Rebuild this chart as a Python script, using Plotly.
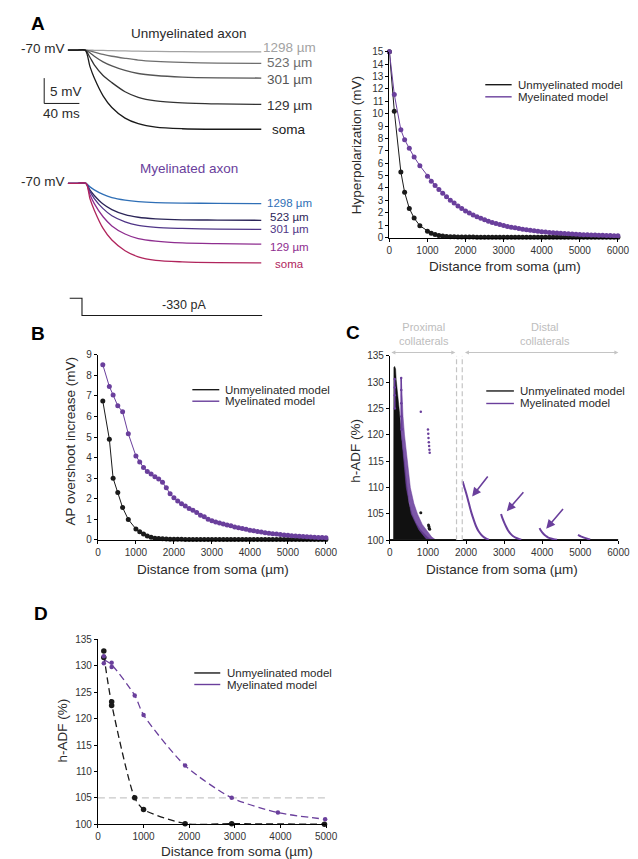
import plotly.graph_objects as go

W, H = 638, 859
def px(x): return x / W
def py(y): return 1 - y / H

FONT = "Liberation Sans, Arial, Helvetica, sans-serif"
INK = "#1a1a1a"
PURPLE = "#6a3f9c"
LIGHT = "#c4c4c4"
TXT = "#2a2a2a"

# ---------------- Panel A (voltage traces, hyperpolarization in mV) ----------------
unmyel_t = [0, 10, 19.7, 25, 30, 40, 50, 65, 80, 100, 130, 170, 220]
unmyel_soma = [0, 0, 0, 3.2, 5.5, 9.0, 11.3, 13.4, 14.5, 15.2, 15.5, 15.6, 15.6]
unmyel_129 = [0, 0, 0, 1.4, 2.9, 5.0, 6.4, 8.2, 9.3, 10.0, 10.4, 10.6, 10.7]
unmyel_301 = [0, 0, 0, 0.5, 1.2, 2.3, 3.1, 4.0, 4.6, 5.0, 5.3, 5.45, 5.5]
unmyel_523 = [0, 0, 0, 0.15, 0.4, 0.85, 1.2, 1.6, 1.95, 2.2, 2.4, 2.55, 2.6]
unmyel_1298 = [0, 0, 0, 0, 0.02, 0.05, 0.1, 0.15, 0.2, 0.25, 0.3, 0.33, 0.35]

myel_t = [0, 10, 20.4, 25, 30, 40, 50, 65, 80, 100, 130, 170, 220]
myel_soma = [0, 0, 0, 3.0, 5.3, 8.9, 11.2, 13.3, 14.5, 15.2, 15.5, 15.65, 15.7]
myel_129 = [0, 0, 0, 2.2, 4.0, 6.6, 8.4, 10.0, 10.9, 11.4, 11.75, 11.9, 12.0]
myel_301 = [0, 0, 0, 1.6, 3.0, 5.0, 6.4, 7.6, 8.3, 8.7, 8.9, 9.05, 9.1]
myel_523 = [0, 0, 0, 1.3, 2.4, 4.1, 5.2, 6.2, 6.7, 7.0, 7.2, 7.25, 7.3]
myel_1298 = [0, 0, 0, 0.7, 1.3, 2.2, 2.8, 3.3, 3.6, 3.8, 3.9, 3.95, 4.0]

trace_labels = ["1298 µm", "523 µm", "301 µm", "129 µm", "soma"]
unmyel_colors = ["#a3a3a3", "#6e6e6e", "#555555", "#333333", "#1a1a1a"]
myel_colors = ["#2f6fb6", "#2b2558", "#4f3587", "#8e2d8f", "#b0245c"]
unmyel_label_y = [0.47, -2.45, -5.7, -10.9, -15.7]
myel_label_y = [-3.9, -6.55, -9.0, -12.6, -16.0]

stim_t = [2, 16, 16, 221]
stim_pA = [0, 0, -330, -330]

# ---------------- Panel A right: hyperpolarization vs distance ----------------
dist_A = [0, 129, 301, 400, 523, 650, 800, 1000] + list(range(1100, 6001, 100))
hyp_unmyel = [15, 10.2, 5.3, 3.65, 2.35, 1.57, 0.95, 0.5,
              0.34, 0.24, 0.17, 0.12, 0.09, 0.07, 0.06, 0.05, 0.04, 0.04,
              0.035, 0.035, 0.03, 0.03, 0.03, 0.03, 0.03, 0.03, 0.03, 0.03,
              0.03, 0.03, 0.03, 0.025, 0.025, 0.025, 0.025, 0.025, 0.025, 0.025,
              0.02, 0.02, 0.02, 0.02, 0.02, 0.02, 0.02, 0.02, 0.02, 0.02,
              0.02, 0.02, 0.02, 0.02, 0.02, 0.02, 0.02, 0.02, 0.02, 0.02]
hyp_myel = [15, 11.55, 8.7, 7.9, 7.2, 6.5, 5.8, 4.95,
            4.55, 4.2, 3.87, 3.58, 3.3, 3.02, 2.78, 2.55, 2.34, 2.15,
            1.98, 1.82, 1.68, 1.55, 1.43, 1.32, 1.22, 1.13, 1.05, 0.97,
            0.9, 0.84, 0.78, 0.72, 0.67, 0.62, 0.58, 0.54, 0.5, 0.47,
            0.44, 0.41, 0.38, 0.36, 0.34, 0.32, 0.3, 0.28, 0.26, 0.25,
            0.23, 0.22, 0.21, 0.2, 0.19, 0.18, 0.17, 0.16, 0.15, 0.14]

# ---------------- Panel B: AP overshoot increase ----------------
dist_B = [129, 301, 400, 523, 650, 800, 1000] + list(range(1100, 6001, 100))
ap_unmyel = [6.75, 4.9, 3.0, 2.3, 1.57, 0.99, 0.53,
             0.40, 0.29, 0.19, 0.13, 0.08, 0.06, 0.05, 0.04, 0.03, 0.03,
             0.025, 0.025, 0.02, 0.02, 0.02, 0.02, 0.02, 0.02, 0.02, 0.02,
             0.02, 0.02, 0.02, 0.02, 0.02, 0.02, 0.02, 0.02, 0.02, 0.02,
             0.02, 0.02, 0.02, 0.02, 0.02, 0.02, 0.02, 0.02, 0.02, 0.02,
             0.02, 0.02, 0.02, 0.02, 0.02, 0.02, 0.02, 0.02, 0.02, 0.02]
ap_myel = [8.52, 7.46, 7.05, 6.52, 6.23, 5.16, 4.08,
           3.79, 3.52, 3.32, 3.2, 3.07, 2.96, 2.8, 2.53, 2.24, 2.05,
           1.89, 1.76, 1.65, 1.52, 1.44, 1.33, 1.2, 1.12, 1.0, 0.93,
           0.87, 0.82, 0.77, 0.72, 0.68, 0.63, 0.59, 0.55, 0.51, 0.47,
           0.44, 0.41, 0.38, 0.35, 0.32, 0.3, 0.28, 0.26, 0.24, 0.22,
           0.2, 0.19, 0.18, 0.16, 0.15, 0.14, 0.13, 0.12, 0.11, 0.1]

# ---------------- Panel C: h-ADF along collaterals ----------------
c_black_region_x = [95, 95, 105, 125, 150, 165, 190, 222, 256, 300, 335, 370, 405, 440, 500, 580, 680, 800, 900, 1000, 1100, 95]
c_black_region_y = [100, 131, 132.8, 133, 132.5, 130.5, 129, 127, 124, 120, 117.5, 115, 112.5, 110, 107, 105, 103.3, 102, 101.2, 100.5, 100, 100]
c_purple_band_x = [300, 320, 345, 384, 452, 537, 630, 725, 850, 1000, 1100, 1200,
                   950, 760, 560, 430, 360, 320, 290, 290, 294]
c_purple_band_y = [130.8, 127, 123.5, 120, 115, 110, 107, 105, 103, 101.5, 100.6, 100.1,
                   100.3, 102, 105, 110, 115, 118, 121, 126, 130.8]
c_purple_streak1_x = [126, 127, 128, 130]
c_purple_streak1_y = [130.6, 129, 127.5, 125]
c_purple_streak2_x = [297, 298, 300, 303, 308]
c_purple_streak2_y = [130.8, 128.5, 126, 123.5, 121]
c_purple_iso_x = [812, 1000, 1008, 1015, 1022, 1030, 1038, 1045]
c_purple_iso_y = [124.4, 121, 120.2, 119.4, 118.6, 117.9, 117.2, 116.6]
c_black_iso_x = [812, 1015, 1025, 1035, 1045]
c_black_iso_y = [105.2, 102.9, 102.6, 102.3, 102.1]
c_base_prox_x = [0, 1740]
c_base_dist_x = [1910, 6000]
c_distal1_x = [1910, 1950, 2000, 2050, 2100, 2150, 2200, 2260, 2330, 2430, 2530, 2600]
c_distal1_y = [111.2, 110.2, 109.0, 107.7, 106.3, 105.0, 103.9, 102.7, 101.7, 100.8, 100.3, 100.1]
c_distal2_x = [2920, 2950, 3000, 3050, 3100, 3160, 3230, 3300, 3370, 3450]
c_distal2_y = [105.0, 104.3, 103.4, 102.6, 101.9, 101.3, 100.8, 100.5, 100.3, 100.1]
c_distal3_x = [3930, 3960, 4000, 4050, 4100, 4160, 4230, 4300, 4390]
c_distal3_y = [102.3, 101.9, 101.5, 101.1, 100.8, 100.5, 100.35, 100.2, 100.1]
c_distal4_x = [4940, 4980, 5030, 5080, 5140, 5200, 5260]
c_distal4_y = [101.0, 100.85, 100.7, 100.55, 100.4, 100.25, 100.15]
c_arrow_tail = [(2600, 112.4), (3540, 109.4), (4580, 106.2)]
c_arrow_head = [(2160, 108.3), (3070, 105.5), (4105, 102.2)]
c_divider_x = [1750, 1900]
c_region_spans = [(0, 1718), (1931, 6000)]
c_region_names = ["Proximal<br>collaterals", "Distal<br>collaterals"]
c_region_label_x = [885, 4077]

# ---------------- Panel D: h-ADF at branch points ----------------
d_unmyel_x = [129, 129, 301, 301, 806, 1000, 1911, 2931, 4964]
d_unmyel_y = [132.8, 131.6, 123.2, 122.5, 105.0, 102.8, 100.1, 100.1, 100.0]
d_unmyel_fit_x = [129, 301, 806, 1000, 1911, 2931, 4964]
d_unmyel_fit_y = [132.0, 122.8, 105.0, 102.8, 100.1, 100.1, 100.0]
d_myel_x = [129, 129, 301, 301, 806, 1000, 1911, 2931, 3944, 4979]
d_myel_y = [131.8, 130.5, 130.6, 129.8, 124.4, 120.7, 111.1, 105.0, 102.2, 100.95]
d_myel_fit_x = [129, 301, 806, 1000, 1911, 2931, 3944, 4979]
d_myel_fit_y = [131.2, 130.2, 124.4, 120.7, 111.1, 105.0, 102.2, 100.95]
d_threshold = 105

fig = go.Figure()

# ---- Panel A traces ----
unmyel_series = [unmyel_1298, unmyel_523, unmyel_301, unmyel_129, unmyel_soma]
myel_series = [myel_1298, myel_523, myel_301, myel_129, myel_soma]
for vals, col in zip(unmyel_series, unmyel_colors):
    fig.add_trace(go.Scatter(x=unmyel_t, y=[-v for v in vals], mode="lines",
                             line=dict(color=col, width=1.3, shape="spline", smoothing=0.8),
                             xaxis="x", yaxis="y", showlegend=False, hoverinfo="skip"))
for vals, col in zip(myel_series, myel_colors):
    fig.add_trace(go.Scatter(x=myel_t, y=[-v for v in vals], mode="lines",
                             line=dict(color=col, width=1.3, shape="spline", smoothing=0.8),
                             xaxis="x2", yaxis="y2", showlegend=False, hoverinfo="skip"))
fig.add_trace(go.Scatter(x=stim_t, y=stim_pA, mode="lines", line=dict(color=INK, width=1.1),
                         xaxis="x3", yaxis="y3", showlegend=False, hoverinfo="skip"))

# ---- Panel A right ----
fig.add_trace(go.Scatter(x=dist_A, y=hyp_unmyel, mode="lines+markers",
                         line=dict(color=INK, width=1), marker=dict(color=INK, size=5),
                         xaxis="x4", yaxis="y4", showlegend=False, cliponaxis=False))
fig.add_trace(go.Scatter(x=dist_A, y=hyp_myel, mode="lines+markers",
                         line=dict(color=PURPLE, width=1), marker=dict(color=PURPLE, size=5),
                         xaxis="x4", yaxis="y4", showlegend=False, cliponaxis=False))

# ---- Panel B ----
fig.add_trace(go.Scatter(x=dist_B, y=ap_unmyel, mode="lines+markers",
                         line=dict(color=INK, width=1), marker=dict(color=INK, size=5),
                         xaxis="x5", yaxis="y5", showlegend=False, cliponaxis=False))
fig.add_trace(go.Scatter(x=dist_B, y=ap_myel, mode="lines+markers",
                         line=dict(color=PURPLE, width=1), marker=dict(color=PURPLE, size=5),
                         xaxis="x5", yaxis="y5", showlegend=False, cliponaxis=False))

# ---- Panel C ----
fig.add_trace(go.Scatter(x=c_black_region_x, y=c_black_region_y, mode="lines", fill="toself",
                         fillcolor="#111111", line=dict(width=0.5, color="#111111"),
                         xaxis="x6", yaxis="y6", showlegend=False, hoverinfo="skip"))
fig.add_trace(go.Scatter(x=c_purple_band_x, y=c_purple_band_y, mode="lines", fill="toself",
                         fillcolor="rgba(106,63,156,0.88)", line=dict(width=0.5, color=PURPLE),
                         xaxis="x6", yaxis="y6", showlegend=False, hoverinfo="skip"))
for sx, sy in [(c_purple_streak1_x, c_purple_streak1_y), (c_purple_streak2_x, c_purple_streak2_y)]:
    fig.add_trace(go.Scatter(x=sx, y=sy, mode="lines+markers", line=dict(color=PURPLE, width=1.5),
                             marker=dict(color=PURPLE, size=2.5),
                             xaxis="x6", yaxis="y6", showlegend=False, hoverinfo="skip"))
fig.add_trace(go.Scatter(x=c_purple_iso_x, y=c_purple_iso_y, mode="markers",
                         marker=dict(color=PURPLE, size=2.5),
                         xaxis="x6", yaxis="y6", showlegend=False, hoverinfo="skip"))
fig.add_trace(go.Scatter(x=c_black_iso_x, y=c_black_iso_y, mode="markers",
                         marker=dict(color=INK, size=3),
                         xaxis="x6", yaxis="y6", showlegend=False, hoverinfo="skip"))
for bx in [c_base_prox_x, c_base_dist_x]:
    fig.add_trace(go.Scatter(x=bx, y=[100] * len(bx), mode="lines", line=dict(color=INK, width=2.5),
                             xaxis="x6", yaxis="y6", showlegend=False, hoverinfo="skip", cliponaxis=False))
for dx, dy in [(c_distal1_x, c_distal1_y), (c_distal2_x, c_distal2_y),
               (c_distal3_x, c_distal3_y), (c_distal4_x, c_distal4_y)]:
    fig.add_trace(go.Scatter(x=dx, y=dy, mode="lines", line=dict(color=PURPLE, width=2, shape="spline"),
                             xaxis="x6", yaxis="y6", showlegend=False, hoverinfo="skip", cliponaxis=False))

# ---- Panel D ----
fig.add_trace(go.Scatter(x=d_unmyel_fit_x, y=d_unmyel_fit_y, mode="lines",
                         line=dict(color=INK, width=1.3, dash="7px,4px", shape="spline", smoothing=0.7),
                         xaxis="x7", yaxis="y7", showlegend=False, hoverinfo="skip"))
fig.add_trace(go.Scatter(x=d_myel_fit_x, y=d_myel_fit_y, mode="lines",
                         line=dict(color=PURPLE, width=1.3, dash="7px,4px", shape="spline", smoothing=0.7),
                         xaxis="x7", yaxis="y7", showlegend=False, hoverinfo="skip"))
fig.add_trace(go.Scatter(x=d_unmyel_x, y=d_unmyel_y, mode="markers", marker=dict(color=INK, size=5.5),
                         xaxis="x7", yaxis="y7", showlegend=False, cliponaxis=False))
fig.add_trace(go.Scatter(x=d_myel_x, y=d_myel_y, mode="markers", marker=dict(color=PURPLE, size=4.5),
                         xaxis="x7", yaxis="y7", showlegend=False, cliponaxis=False))

# ---------------- Layout ----------------
def hidden(domain, rng):
    return dict(domain=domain, range=rng, visible=False, fixedrange=True)

def vis(domain, rng, dtick, anchor, tick0=0):
    return dict(domain=domain, range=rng, anchor=anchor, showline=True, linecolor="black", linewidth=1,
                ticks="outside", ticklen=3, tickwidth=1, tickcolor="black", showgrid=False,
                zeroline=False, dtick=dtick, tick0=tick0, fixedrange=True,
                tickfont=dict(size=10, color="#333333", family=FONT))

layout = dict(
    width=W, height=H, margin=dict(l=0, r=0, t=0, b=0),
    paper_bgcolor="white", plot_bgcolor="white",
    font=dict(family=FONT, color=TXT),
    showlegend=False,
    xaxis=hidden([0, 0.5], [-64.78, 289.67]),
    yaxis=hidden([py(140), 1.0], [-20.10, 7.14]),
    xaxis2=hidden([0, 0.5], [-64.78, 289.67]),
    yaxis2=hidden([py(280), py(140)], [-21.07, 6.17]),
    xaxis3=hidden([0, 0.5], [-64.78, 289.67]),
    yaxis3=hidden([py(320), py(280)], [-601.2, 157.4]),
    xaxis4=vis([px(387.5), px(621.5)], [0, 6000], 1000, "y4"),
    yaxis4=vis([py(226.7), py(38.3)], [0, 15], 1, "x4"),
    xaxis5=vis([px(89), px(322.5)], [0, 6000], 1000, "y5"),
    yaxis5=vis([py(533.3), py(345.7)], [0, 9], 1, "x5"),
    xaxis6=vis([px(388), px(622)], [0, 6000], 1000, "y6"),
    yaxis6=vis([py(533.7), py(346.7)], [100, 135], 5, "x6", tick0=100),
    xaxis7=vis([px(89), px(322.7)], [0, 5000], 1000, "y7"),
    yaxis7=vis([py(821.7), py(634.3)], [100, 135], 5, "x7", tick0=100),
)

shapes = []
annotations = []

def ann(text, x, y, xref="paper", yref="paper", size=13.5, color=TXT, xanchor="center",
        yanchor="middle", textangle=0, bold=False):
    annotations.append(dict(text=f"<b>{text}</b>" if bold else text, x=x, y=y, xref=xref, yref=yref,
                            showarrow=False, xanchor=xanchor, yanchor=yanchor, textangle=textangle,
                            font=dict(size=size, color=color, family=FONT)))

# Panel letters
ann("A", px(28), py(10), size=19, color="black", bold=True)
ann("B", px(28), py(323.7), size=19, color="black", bold=True)
ann("C", px(350), py(323.5), size=19, color="black", bold=True)
ann("D", px(30.5), py(608.5), size=19, color="black", bold=True)

# Panel A left texts
ann("Unmyelinated axon", 138.2, 3.25, "x", "y", size=13.5)
ann("Myelinated axon", 138.2, 2.92, "x2", "y2", size=13.5, color=PURPLE)
ann("-70 mV", -1.5, 0.35, "x", "y", size=13.5, xanchor="right")
ann("-70 mV", -1.5, 0.35, "x2", "y2", size=13.5, xanchor="right")
for lab, ly, col in zip(trace_labels, unmyel_label_y, unmyel_colors):
    ann(lab, 251.9, ly, "x", "y", size=13.5, color=col)
for lab, ly, col in zip(trace_labels, myel_label_y, myel_colors):
    ann(lab, 251.9, ly, "x2", "y2", size=11.5, color=col)
ann("5 mV", -22.9, -8.23, "x", "y", size=13.5, xanchor="left")
ann("40 ms", -7, -12.4, "x", "y", size=13.5)
ann("-330 pA", 131.6, -127, "x3", "y3", size=12.5)
# scale bar: 5 mV x 40 ms
shapes.append(dict(type="line", xref="x", yref="y", x0=-27, x1=-27, y0=-5.51, y1=-10.51,
                   line=dict(color=INK, width=1)))
shapes.append(dict(type="line", xref="x", yref="y", x0=-27, x1=13, y0=-10.51, y1=-10.51,
                   line=dict(color=INK, width=1)))

# Axis titles
ann("Distance from soma (µm)", px(505.7), py(256), size=13.5)
ann("Hyperpolarization (mV)", px(353.3), py(133), size=13.5, textangle=-90)
ann("Distance from soma (µm)", px(206.7), py(563.3), size=13.5)
ann("AP overshoot increase (mV)", px(61), py(433), size=13.5, textangle=-90)
ann("Distance from soma (µm)", px(503.3), py(563.3), size=13.5)
ann("h-ADF (%)", px(353.3), py(443), size=13.5, textangle=-90)
ann("Distance from soma (µm)", px(231.7), py(849.3), size=13.5)
ann("h-ADF (%)", px(53.3), py(726.7), size=13.5, textangle=-90)

# Legends (line swatch + label)
def legend(x0, x1, y_top, y_bot, tx):
    for yy, col, lab in [(y_top, INK, "Unmyelinated model"), (y_bot, PURPLE, "Myelinated model")]:
        shapes.append(dict(type="line", xref="paper", yref="paper", x0=px(x0), x1=px(x1),
                           y0=py(yy), y1=py(yy), line=dict(color=col, width=1.4)))
        ann(lab, px(tx), py(yy), size=11.5, color=TXT, xanchor="left")
legend(485.7, 512.7, 71.7, 84, 517.5)
legend(185.7, 213.3, 381, 392.7, 217.5)
legend(486.7, 515, 382.3, 395, 519.5)
legend(187.7, 214.3, 668.3, 680, 219.5)

# Panel C decorations
for dxv in c_divider_x:
    shapes.append(dict(type="line", xref="x6", yref="y6", x0=dxv, x1=dxv, y0=100, y1=135,
                       line=dict(color=LIGHT, width=1.2, dash="5px,3px")))
for (hx, hy), (tx_, ty_) in zip(c_arrow_head, c_arrow_tail):
    annotations.append(dict(x=hx, y=hy, ax=tx_, ay=ty_, xref="x6", yref="y6", axref="x6", ayref="y6",
                            text="", showarrow=True, arrowhead=2, arrowsize=1.1, arrowwidth=1.6,
                            arrowcolor=PURPLE))
for (x0, x1) in c_region_spans:
    annotations.append(dict(x=x1, y=py(343.3), ax=x0, ay=0, xref="x6", yref="paper", axref="x6",
                            ayref="pixel", text="", showarrow=True, arrowhead=2, arrowsize=0.8,
                            arrowwidth=1, arrowside="end+start", startarrowhead=2, startarrowsize=0.8,
                            arrowcolor=LIGHT))
for name, lx in zip(c_region_names, c_region_label_x):
    ann(name, lx, py(325), "x6", "paper", size=11, color="#bdbdbd")

# Panel D threshold
shapes.append(dict(type="line", xref="x7", yref="y7", x0=0, x1=5000, y0=d_threshold, y1=d_threshold,
                   line=dict(color="#c8c8c8", width=1.2, dash="7px,4px"), layer="below"))

layout["shapes"] = shapes
layout["annotations"] = annotations
fig.update_layout(**layout)
fig.write_html("out.html")
